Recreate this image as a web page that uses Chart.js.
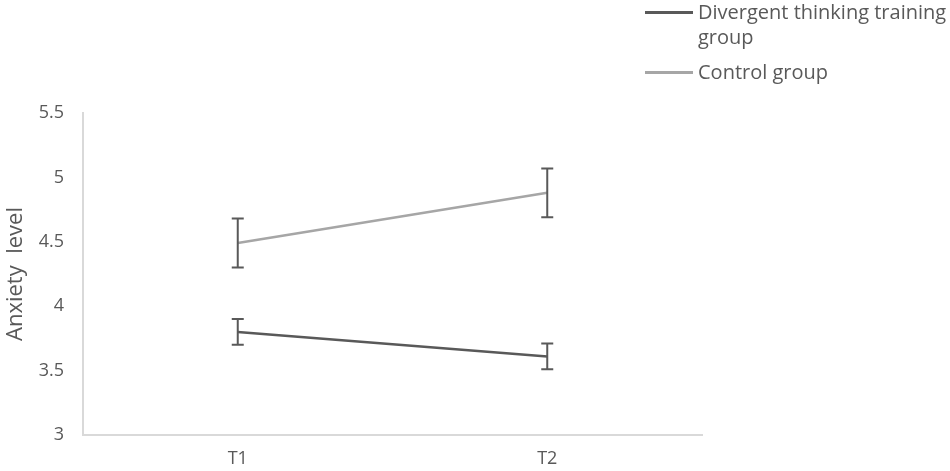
<!DOCTYPE html>
<html>
<head>
<meta charset="utf-8">
<script src="https://cdn.jsdelivr.net/npm/chart.js@4/dist/chart.umd.min.js"></script>
<style>
  html, body { margin: 0; padding: 0; background: #fff; }
  #wrap { position: relative; width: 950px; height: 471px; }
  canvas { display: block; }
  .leg { position: absolute; font-family: "Open Sans", sans-serif; font-size: 20px; color: #595959; line-height: 25px; }
  .leg .ln { position: absolute; left: -53px; top: 12px; width: 48px; height: 2.5px; }
</style>
</head>
<body>
<div id="wrap">
  <canvas id="c" width="950" height="471"></canvas>
  <div class="leg" style="left:698px; top:-1px; width:260px;"><span class="ln" style="background:#595959"></span>Divergent thinking training<br>group</div>
  <div class="leg" style="left:698px; top:59px;"><span class="ln" style="background:#a6a6a6"></span>Control group</div>
</div>
<script>
const categories = ["T1", "T2"];
const seriesNames = ["Divergent thinking training group", "Control group"];
const divergentValues = [3.80, 3.61];
const divergentErrors = [0.10, 0.10];
const controlValues = [4.49, 4.88];
const controlErrors = [0.19, 0.19];
const yTicks = [3, 3.5, 4, 4.5, 5, 5.5];

const errorBarPlugin = {
  id: 'errorBars',
  afterDatasetsDraw(chart) {
    const ctx = chart.ctx;
    const ys = chart.scales.y;
    chart.data.datasets.forEach((ds, di) => {
      const meta = chart.getDatasetMeta(di);
      ds.data.forEach((v, i) => {
        const e = ds.errors[i];
        const x = meta.data[i].x;
        const yt = ys.getPixelForValue(v + e);
        const yb = ys.getPixelForValue(v - e);
        ctx.save();
        ctx.strokeStyle = '#595959';
        ctx.lineWidth = 2;
        ctx.beginPath();
        ctx.moveTo(x, yt); ctx.lineTo(x, yb);
        ctx.moveTo(x - 6, yt); ctx.lineTo(x + 6, yt);
        ctx.moveTo(x - 6, yb); ctx.lineTo(x + 6, yb);
        ctx.stroke();
        ctx.restore();
      });
    });
  }
};

new Chart(document.getElementById('c'), {
  type: 'line',
  data: {
    labels: categories,
    datasets: [
      { label: seriesNames[0], data: divergentValues, errors: divergentErrors, borderColor: '#595959', borderWidth: 2.5, pointRadius: 0, tension: 0 },
      { label: seriesNames[1], data: controlValues, errors: controlErrors, borderColor: '#a6a6a6', borderWidth: 2.5, pointRadius: 0, tension: 0 }
    ]
  },
  options: {
    responsive: false,
    animation: false,
    layout: { padding: { top: 113, right: 248, bottom: 0, left: 0 } },
    plugins: { legend: { display: false }, tooltip: { enabled: false } },
    scales: {
      x: {
        offset: true,
        grid: { display: false, drawTicks: false },
        border: { color: '#d9d9d9', width: 2 },
        ticks: { color: '#595959', font: { family: 'Open Sans', size: 18 }, padding: 13 },
        afterFit(s) { s.height = 36; }
      },
      y: {
        min: 3, max: 5.5,
        afterBuildTicks(s) { s.ticks = yTicks.map(v => ({ value: v })); },
        grid: { display: false, drawTicks: false },
        border: { color: '#d9d9d9', width: 2 },
        ticks: { color: '#595959', font: { family: 'Open Sans', size: 18 }, padding: 19, callback: v => String(v) },
        title: { display: true, text: 'Anxiety  level', color: '#595959', font: { family: 'Open Sans', size: 22 }, padding: { top: 3, bottom: 0 } },
        afterFit(s) { s.width = 83; }
      }
    }
  },
  plugins: [errorBarPlugin]
});
</script>
</body>
</html>
